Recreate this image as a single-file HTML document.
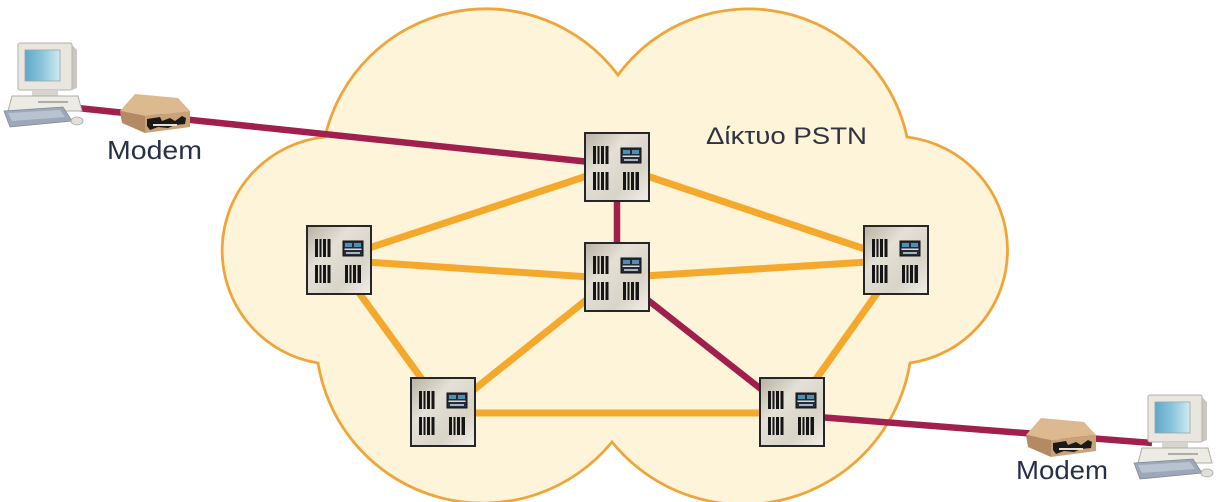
<!DOCTYPE html>
<html>
<head>
<meta charset="utf-8">
<style>
  html, body { margin:0; padding:0; background:#ffffff; }
  body { width:1226px; height:502px; overflow:hidden; }
  svg { display:block; }
  .lbl { font-family:"Liberation Sans", "DejaVu Sans", sans-serif; fill:#283048; }
</style>
</head>
<body>
<svg width="1226" height="502" viewBox="0 0 1226 502" xmlns="http://www.w3.org/2000/svg">
  <defs>
    <linearGradient id="boxg" x1="0" y1="0" x2="1" y2="1">
      <stop offset="0" stop-color="#b8b0a2"/>
      <stop offset="0.35" stop-color="#e4e0d6"/>
      <stop offset="0.7" stop-color="#d9d4c8"/>
      <stop offset="1" stop-color="#f2efe8"/>
    </linearGradient>
    <linearGradient id="scr" x1="0" y1="0" x2="1" y2="0">
      <stop offset="0" stop-color="#5fa8c8"/>
      <stop offset="0.5" stop-color="#8cc6dc"/>
      <stop offset="1" stop-color="#cfeaf3"/>
    </linearGradient>
    <g id="bars">
      <rect x="0" y="0" width="3" height="18" fill="#151515"/>
      <rect x="4.5" y="0" width="2" height="18" fill="#151515"/>
      <rect x="8" y="0" width="3" height="18" fill="#151515"/>
      <rect x="12.5" y="0" width="3" height="18" fill="#151515"/>
    </g>
    <g id="sw">
      <rect x="0" y="0" width="64" height="68" fill="url(#boxg)" stroke="#262626" stroke-width="2"/>
      <use href="#bars" x="8" y="13"/>
      <use href="#bars" x="8" y="39"/>
      <use href="#bars" x="38" y="39"/>
      <rect x="52" y="39" width="2" height="18" fill="#151515"/>
      <rect x="36" y="15" width="20" height="15" fill="#242a36" stroke="#111" stroke-width="1"/>
      <rect x="38" y="17" width="7" height="4" fill="#4d8fb5"/>
      <rect x="47" y="17" width="7" height="4" fill="#4d8fb5"/>
      <rect x="37.5" y="22.5" width="17" height="1.5" fill="#d8d8d8"/>
      <rect x="39" y="26" width="14" height="2" fill="#a9b3bf"/>
    </g>
    <g id="modem">
      <polygon points="0,20 15,3 58,7 70,20 25,25" fill="#dcb98f"/>
      <polygon points="0,20 25,25 25,42 2,32" fill="#b38a62"/>
      <polygon points="25,25 70,20 70,36 25,42" fill="#c8a378"/>
      <path d="M27,28 L40,26 L42,30 L50,27 L55,30 L62,25 L66,27 L65,33 L55,34 L48,37 L38,36 L30,39 L27,35 Z" fill="#1c1a18"/>
      <rect x="33" y="33" width="24" height="2" fill="#e8e0d0"/>
    </g>
    <g id="pc">
      <polygon points="54,2 59,7 59,45 54,47" fill="#c9c7bf"/>
      <rect x="0" y="0" width="54" height="47" rx="2" fill="#e8e6de" stroke="#b4b2aa" stroke-width="1"/>
      <rect x="7" y="7" width="35" height="31" fill="url(#scr)" stroke="#9aa4a8" stroke-width="0.8"/>
      <rect x="14" y="47" width="26" height="6" fill="#d6d4cc"/>
      <polygon points="-6,53 60,53 64,68 -10,68" fill="#ecebe4" stroke="#aeaca4" stroke-width="1"/>
      <rect x="20" y="58" width="30" height="2" fill="#b0aea6"/>
      <polygon points="-14,68 45,64 54,78 -8,84" fill="#9ca8b8" stroke="#7f8a9a" stroke-width="0.8"/>
      <polygon points="-10,70 42,67 47,74 -6,78" fill="#b9c3d0"/>
      <ellipse cx="59" cy="78" rx="6" ry="4" fill="#e0dfd9" stroke="#a8a7a0" stroke-width="0.8"/>
    </g>
  </defs>

  <path d="M325,137 A165,165 0 0 1 618,75 A162,162 0 0 1 907,137 A114,114 0 0 1 910,363 A169,169 0 0 1 612,442 A167,167 0 0 1 318,363 A114,114 0 0 1 325,137 Z"
        fill="#fdf4da" stroke="#f0a53a" stroke-width="2.8" stroke-linejoin="miter"/>

  <g stroke="#f4a82c" stroke-width="7" stroke-linecap="butt" fill="none">
    <line x1="590" y1="175" x2="366" y2="249"/>
    <line x1="644" y1="175" x2="868" y2="250"/>
    <line x1="366" y1="262" x2="590" y2="277"/>
    <line x1="644" y1="276" x2="868" y2="262"/>
    <line x1="357" y1="290" x2="424" y2="382"/>
    <line x1="590" y1="297" x2="471" y2="392"/>
    <line x1="470" y1="413" x2="765" y2="413"/>
    <line x1="880" y1="289" x2="814" y2="382"/>
  </g>

  <g stroke="#a11f4d" stroke-width="6.5" stroke-linecap="butt" fill="none">
    <line x1="68" y1="107" x2="590" y2="162"/>
    <line x1="617" y1="198" x2="617" y2="247"/>
    <line x1="644" y1="297" x2="766" y2="393"/>
    <line x1="818" y1="417" x2="1152" y2="443"/>
  </g>

  <use href="#sw" x="585" y="133"/>
  <use href="#sw" x="585" y="243"/>
  <use href="#sw" x="307" y="226"/>
  <use href="#sw" x="864" y="226"/>
  <use href="#sw" x="411" y="378"/>
  <use href="#sw" x="760" y="378"/>

  <use href="#pc" x="18" y="43"/>
  <use href="#pc" x="1148" y="395"/>

  <use href="#modem" x="120" y="91"/>
  <use href="#modem" x="1026" y="415"/>

  <text class="lbl" x="107" y="159" font-size="26" textLength="95" lengthAdjust="spacingAndGlyphs">Modem</text>
  <text class="lbl" x="1016" y="479" font-size="26" textLength="92" lengthAdjust="spacingAndGlyphs">Modem</text>
  <text class="lbl" x="706" y="144" font-size="24" textLength="161" lengthAdjust="spacingAndGlyphs" style="fill:#30343f">Δίκτυο PSTN</text>
</svg>
</body>
</html>
